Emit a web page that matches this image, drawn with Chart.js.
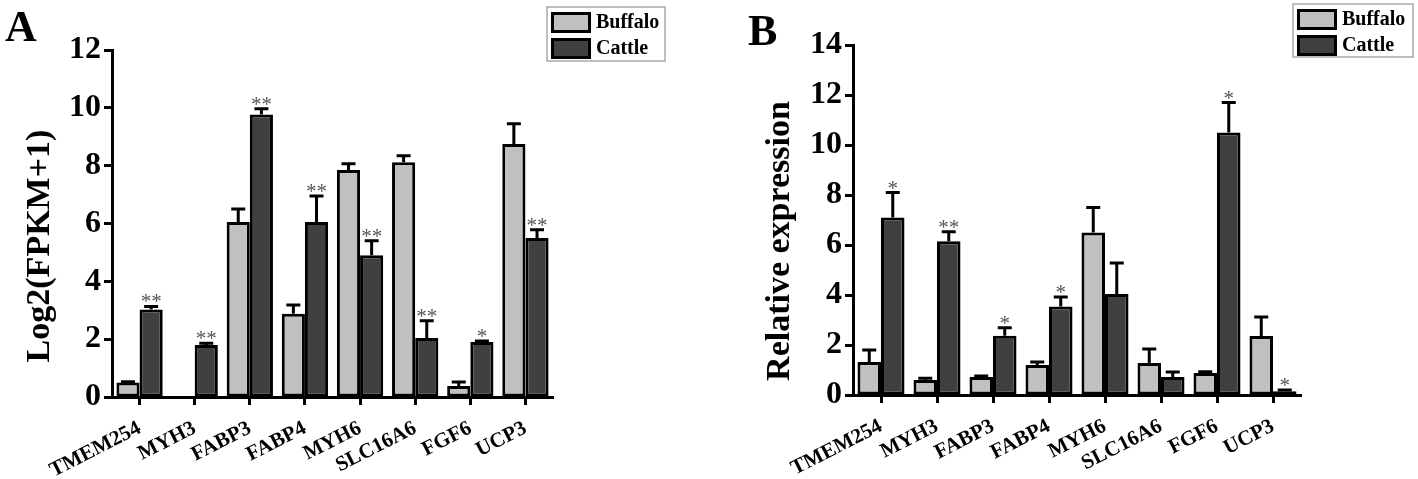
<!DOCTYPE html>
<html>
<head>
<meta charset="utf-8">
<script src="https://cdn.jsdelivr.net/npm/chart.js@4.4.1/dist/chart.umd.min.js"></script>
<style>
  html, body { margin: 0; padding: 0; background: #fff; }
  #wrap { position: relative; width: 1418px; height: 479px; overflow: hidden; }
  .panel { position: absolute; top: 0; width: 709px; height: 479px; }
  .tag { position: absolute; font: bold 44px "Liberation Serif", "Times New Roman", serif; line-height: 44px; }
</style>
</head>
<body>
<div id="wrap">
  <div class="panel" style="left:0"><canvas id="chart-a" width="709" height="479"></canvas></div>
  <div class="panel" style="left:709px"><canvas id="chart-b" width="709" height="479"></canvas></div>
  <div class="tag" style="left:5px;top:5px">A</div>
  <div class="tag" style="left:748px;top:9px">B</div>
</div>
<script>
// genes on the x axis (same for both panels)
const genes = ['TMEM254', 'MYH3', 'FABP3', 'FABP4', 'MYH6', 'SLC16A6', 'FGF6', 'UCP3'];

// Panel A - RNA-seq, Log2(FPKM+1)
const fpkmBuffalo = [0.5, 0, 6.05, 2.88, 7.85, 8.12, 0.38, 8.75];
const fpkmBuffaloErr = [0.03, 0, 0.45, 0.3, 0.22, 0.22, 0.14, 0.7];
const fpkmCattle = [3.03, 1.8, 9.77, 6.05, 4.9, 2.04, 1.9, 5.5];
const fpkmCattleErr = [0.1, 0.06, 0.2, 0.9, 0.5, 0.6, 0.04, 0.28];
const fpkmStars = ['**', '**', '**', '**', '**', '**', '*', '**'];
const fpkmTicks = [0, 12];

// Panel B - qPCR, relative expression
const qpcrBuffalo = [1.32, 0.6, 0.72, 1.2, 6.5, 1.28, 0.88, 2.36];
const qpcrBuffaloErr = [0.48, 0.07, 0.04, 0.12, 1.0, 0.56, 0.05, 0.76];
const qpcrCattle = [7.1, 6.15, 2.37, 3.54, 4.04, 0.72, 10.5, 0.15];
const qpcrCattleErr = [1.0, 0.38, 0.32, 0.38, 1.24, 0.2, 1.2, 0.05];
const qpcrStars = ['*', '**', '*', '*', '', '', '*', '*'];
const qpcrTicks = [0, 14];

const SERIF = "'Liberation Serif', 'Times New Roman', serif";

// upward error bars + significance stars
const errorBars = {
    id: 'errorBars',
    afterDatasetsDraw(chart) {
        const ctx = chart.ctx;
        const y = chart.scales.y;
        ctx.save();
        chart.data.datasets.forEach((ds, i) => {
            const meta = chart.getDatasetMeta(i);
            meta.data.forEach((bar, j) => {
                const v = ds.data[j];
                const e = ds.errors[j] || 0;
                const top = y.getPixelForValue(v + e);
                if (e > 0) {
                    ctx.strokeStyle = '#000';
                    ctx.lineWidth = 3;
                    ctx.beginPath();
                    ctx.moveTo(bar.x, y.getPixelForValue(v));
                    ctx.lineTo(bar.x, top);
                    ctx.moveTo(bar.x - 7, top);
                    ctx.lineTo(bar.x + 7, top);
                    ctx.stroke();
                }
                const s = ds.stars ? ds.stars[j] : '';
                if (s) {
                    ctx.fillStyle = '#555';
                    ctx.font = '21px ' + SERIF;
                    ctx.textAlign = 'center';
                    ctx.textBaseline = 'alphabetic';
                    ctx.fillText(s, bar.x, top + 2);
                }
            });
        });
        ctx.restore();
    }
};

// boxed legend in the upper right, and the rotated y title
const boxLegend = {
    id: 'boxLegend',
    afterDraw(chart, args, opts) {
        const ctx = chart.ctx;
        ctx.save();
        ctx.strokeStyle = '#aaa';
        ctx.lineWidth = 1.5;
        ctx.strokeRect(opts.x, opts.y, opts.w, opts.h);
        chart.data.datasets.forEach((ds, i) => {
            const sy = opts.y + 5 + i * 26;
            ctx.fillStyle = ds.backgroundColor;
            ctx.fillRect(opts.x + 4, sy, 40, 21);
            ctx.strokeStyle = '#000';
            ctx.lineWidth = 3;
            ctx.strokeRect(opts.x + 5.5, sy + 1.5, 37, 18);
            ctx.fillStyle = '#000';
            ctx.font = 'bold 20px ' + SERIF;
            ctx.textBaseline = 'middle';
            ctx.textAlign = 'left';
            ctx.fillText(ds.label, opts.x + 49, sy + 11);
        });
        ctx.translate(opts.titleX, opts.titleY);
        ctx.rotate(-Math.PI / 2);
        ctx.font = 'bold 34px ' + SERIF;
        ctx.textAlign = 'center';
        ctx.textBaseline = 'middle';
        ctx.fillText(opts.title, 0, 0);
        ctx.restore();
    }
};

function makeChart(id, buffalo, buffaloErr, cattle, cattleErr, stars, range, lay) {
    return new Chart(document.getElementById(id), {
        type: 'bar',
        data: {
            labels: genes,
            datasets: [{
                label: 'Buffalo',
                data: buffalo,
                errors: buffaloErr,
                backgroundColor: '#c0c0c0',
                borderColor: '#000',
                borderWidth: 3,
                borderSkipped: false
            }, {
                label: 'Cattle',
                data: cattle,
                errors: cattleErr,
                stars: stars,
                backgroundColor: '#404040',
                borderColor: '#000',
                borderWidth: 3,
                borderSkipped: false
            }]
        },
        options: {
            responsive: false,
            animation: false,
            events: [],
            datasets: { bar: { categoryPercentage: 0.84, barPercentage: 1.0 } },
            layout: { padding: { top: lay.top, right: lay.right, bottom: 0, left: 0 } },
            scales: {
                x: {
                    offset: true,
                    afterFit: s => { s.height = lay.xHeight; },
                    grid: { offset: false, drawOnChartArea: false, color: '#000', tickLength: 8, tickWidth: 3 },
                    border: { color: '#000', width: 3 },
                    ticks: {
                        autoSkip: false, minRotation: 27, maxRotation: 27, padding: 11,
                        color: '#000', font: { family: SERIF, size: 21, weight: 'bold' }
                    }
                },
                y: {
                    min: range[0],
                    max: range[1],
                    afterFit: s => { s.width = lay.yWidth; },
                    grid: {
                        drawOnChartArea: false, color: '#000', tickLength: 8,
                        tickWidth: c => (c.tick && c.tick.value % 2 === 0 ? 3 : 2)
                    },
                    border: { color: '#000', width: 3 },
                    ticks: {
                        stepSize: 1, padding: 3, color: '#000',
                        font: { family: SERIF, size: 32, weight: 'bold' },
                        callback: v => (v % 2 === 0 ? v : '')
                    }
                }
            },
            plugins: {
                legend: { display: false },
                tooltip: { enabled: false },
                boxLegend: lay.legend
            }
        },
        plugins: [errorBars, boxLegend]
    });
}

makeChart('chart-a', fpkmBuffalo, fpkmBuffaloErr, fpkmCattle, fpkmCattleErr, fpkmStars, fpkmTicks, {
    top: 50, right: 156, xHeight: 82, yWidth: 112,
    legend: { x: 547, y: 7, w: 118, h: 54, title: 'Log2(FPKM+1)', titleX: 40, titleY: 246 }
});

makeChart('chart-b', qpcrBuffalo, qpcrBuffaloErr, qpcrCattle, qpcrCattleErr, qpcrStars, qpcrTicks, {
    top: 45, right: 117, xHeight: 84, yWidth: 144,
    legend: { x: 584, y: 4, w: 120, h: 53, title: 'Relative expression', titleX: 71, titleY: 241 }
});
</script>
</body>
</html>
